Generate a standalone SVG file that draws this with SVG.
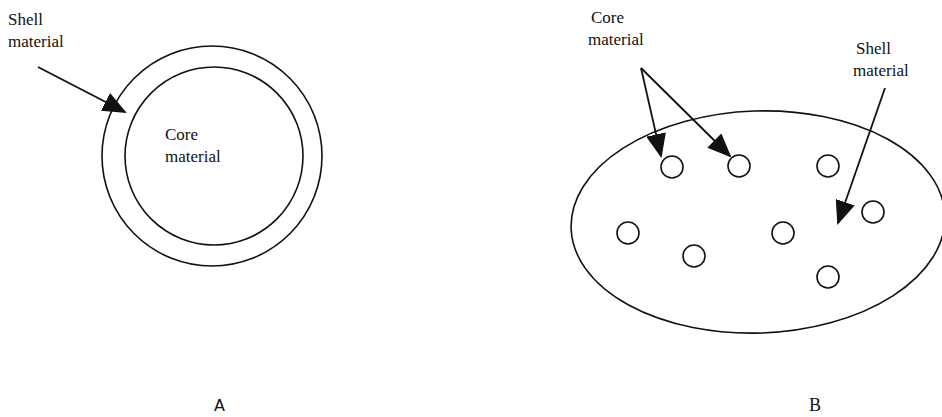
<svg xmlns="http://www.w3.org/2000/svg" width="942" height="417" viewBox="0 0 942 417">
<style>
.t{font-family:"Liberation Serif","Times New Roman",serif;font-size:17px;fill:#111}
.s{fill:none;stroke:#111;stroke-width:1.6}
.c{stroke:#111;stroke-width:1.8;fill:none}
</style>
<defs>
<marker id="ah" markerWidth="24" markerHeight="20" refX="22" refY="10" orient="auto" markerUnits="userSpaceOnUse">
<path d="M0,0 L24,10 L0,20 Z" fill="#111"/>
</marker>
</defs>
<rect width="942" height="417" fill="#fff"/>
<g id="diagramA">
<circle class="s" cx="212" cy="156" r="110"/>
<circle class="s" cx="214" cy="156" r="89"/>
<text class="t" x="8" y="25">Shell</text>
<text class="t" x="8" y="47">material</text>
<text class="t" x="165" y="140">Core</text>
<text class="t" x="165" y="162">material</text>
<text class="t" x="214" y="411" style="font-family:'DejaVu Sans',sans-serif;font-size:16px">A</text>
</g>
<g id="diagramB">
<ellipse class="s" cx="758" cy="222" rx="187" ry="111" transform="rotate(-2 758 222)"/>
<circle class="s" cx="672" cy="167" r="11"/>
<circle class="s" cx="739" cy="166" r="11"/>
<circle class="s" cx="828" cy="166" r="11"/>
<circle class="s" cx="873" cy="212" r="11"/>
<circle class="s" cx="628" cy="233" r="11"/>
<circle class="s" cx="694" cy="256" r="11"/>
<circle class="s" cx="783" cy="233" r="11"/>
<circle class="s" cx="828" cy="277" r="11"/>
<text class="t" x="591" y="23">Core</text>
<text class="t" x="588" y="45">material</text>
<text class="t" x="856" y="54">Shell</text>
<text class="t" x="853" y="76">material</text>
<text class="t" x="809" y="411" style="font-size:18px">B</text>
</g>
<g id="connectors">
<line class="c" x1="38" y1="67" x2="125" y2="112" marker-end="url(#ah)"/>
<line class="c" x1="641" y1="68" x2="661" y2="156" marker-end="url(#ah)"/>
<line class="c" x1="641" y1="68" x2="730" y2="156" marker-end="url(#ah)"/>
<line class="c" x1="885" y1="88" x2="838" y2="223" marker-end="url(#ah)"/>
</g>
</svg>
